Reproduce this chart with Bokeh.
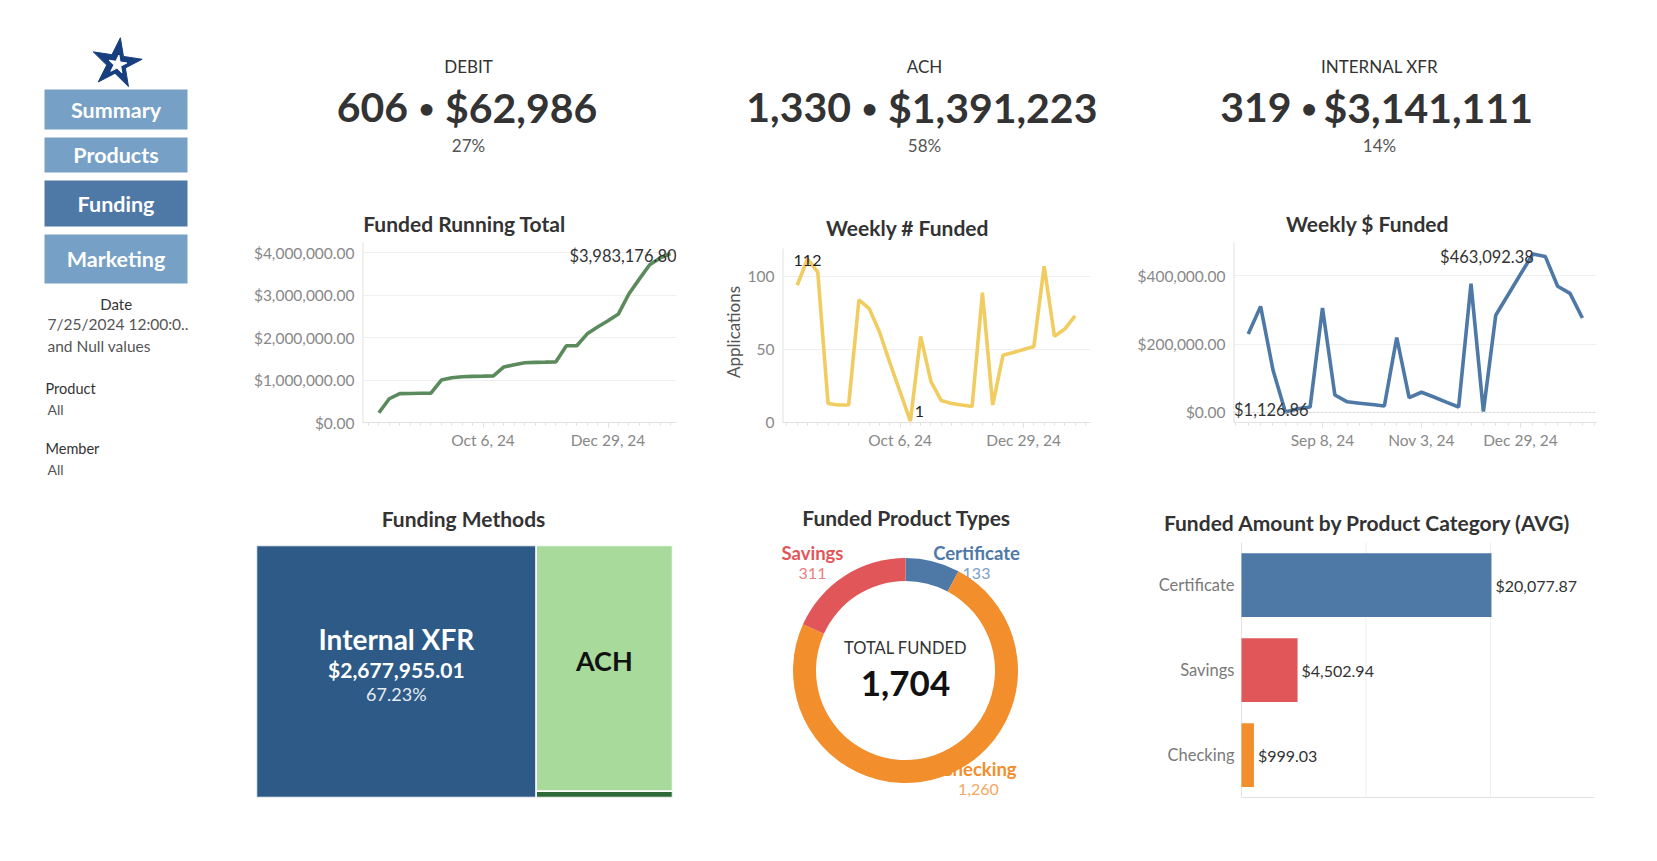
from math import pi
import pandas as pd
from bokeh.plotting import figure
from bokeh.models import (Range1d, FixedTicker, NumeralTickFormatter, CustomJSTickFormatter,
                          Span)
from bokeh.layouts import row, column
from bokeh.core.properties import value
from bokeh.embed import file_html
from bokeh.resources import INLINE

# ------------------------------------------------------------------ data
nav_labels = ["Summary", "Products", "Funding", "Marketing"]
nav_active = "Funding"
filter_names = ["Date", "Product", "Member"]
date_filter_lines = ["7/25/2024 12:00:0..", "and Null values"]
product_filter = "All"
member_filter = "All"

kpi_names = ["DEBIT", "ACH", "INTERNAL XFR"]
kpi_counts = [606, 1330, 319]
kpi_amounts = [62986, 1391223, 3141111]
kpi_shares = ["27%", "58%", "14%"]

first_week = "2024-07-28"
running_total = [230000, 560000, 680000, 685000, 688000, 690000, 1000000, 1055000,
                 1080000, 1087000, 1093000, 1100000, 1310000, 1360000, 1410000,
                 1417000, 1423000, 1430000, 1810000, 1810000, 2090000, 2250000,
                 2400000, 2560000, 3030000, 3380000, 3720000, 3880000, 3983176.80]
weekly_count = [94, 112, 103, 13, 12, 12, 84, 78, 62, 41, 21, 1, 59, 28, 15, 13,
                12, 11, 89, 12, 46, 48, 50, 52, 107, 59, 64, 73]
weekly_amount = [229000, 310000, 124000, 1126.86, 11000, 16000, 305000, 51000,
                 31000, 27000, 23000, 19000, 219000, 43000, 59000, 45000, 30000,
                 16000, 376000, 2500, 284000, 344000, 404000, 463092.38, 456000,
                 369000, 348000, 276000]
ticks_running = ["2024-10-06", "2024-12-29"]
ticks_count = ["2024-10-06", "2024-12-29"]
ticks_amount = ["2024-09-08", "2024-11-03", "2024-12-29"]
count_axis_title = "Applications"

chart_titles_top = ["Funded Running Total", "Weekly # Funded", "Weekly $ Funded"]
chart_titles_bottom = ["Funding Methods", "Funded Product Types",
                       "Funded Amount by Product Category (AVG)"]

method_names = ["Internal XFR", "ACH", "Debit"]
method_amounts = [2677955.01, 1272371.79, 32850.00]

product_types = ["Certificate", "Checking", "Savings"]
product_counts = [133, 1260, 311]

category_names = ["Certificate", "Savings", "Checking"]
category_avg = [20077.87, 4502.94, 999.03]

# ------------------------------------------------------------------ style
FONT = "Lato"
TITLE_C = "#333333"
TICK_C = "#888888"
GRID_C = "#efefef"
AXIS_C = "#e2e2e2"
GREEN = "#5b8b5c"
YELLOW = "#f1cd61"
BLUE = "#4e79a7"
ORANGE = "#f28e2b"
RED = "#e15759"
PROD_COLORS = {"Certificate": BLUE, "Checking": ORANGE, "Savings": RED}
PROD_LIGHT = {"Certificate": "#7d9ec4", "Checking": "#f5a660", "Savings": "#ea8082"}
METHOD_COLORS = ["#2d5a86", "#a8da9c", "#2d6a38"]
TICK_SIZE = "15.5px"
TITLE_SIZE = "21px"

DATE_JS = """
const m = ["Jan","Feb","Mar","Apr","May","Jun","Jul","Aug","Sep","Oct","Nov","Dec"];
const d = new Date(tick);
return m[d.getUTCMonth()] + " " + d.getUTCDate() + ", " + String(d.getUTCFullYear()).slice(2);
"""


def ms(s):
    return pd.Timestamp(s).value / 1e6


def deco_fig(x0, x1, y0, y1):
    """A figure whose plot area is the whole figure, with page-pixel ranges."""
    p = figure(width=x1 - x0, height=y1 - y0, x_range=Range1d(x0, x1),
               y_range=Range1d(y1, y0), output_backend="svg", toolbar_location=None,
               min_border_left=0, min_border_right=0, min_border_top=0,
               min_border_bottom=0)
    p.axis.visible = False
    p.grid.visible = False
    p.outline_line_color = None
    return p


def make_fig(origin, size, frame, x_range, y_range):
    ox, oy = origin
    w, h = size
    L, T, R, B = frame
    p = figure(width=w, height=h, x_range=x_range, y_range=y_range,
               output_backend="svg", toolbar_location=None,
               min_border_left=round(L - ox), min_border_right=round(ox + w - R),
               min_border_top=round(T - oy), min_border_bottom=round(oy + h - B))
    p.outline_line_color = None
    return p


def style_line_chart(p, yticks, yfmt, xticks):
    minor = []
    d = pd.Timestamp("2024-07-21")
    while d <= pd.Timestamp("2025-02-16"):
        minor.append(d.value / 1e6)
        d += pd.Timedelta(days=7)
    p.xaxis.ticker = FixedTicker(ticks=[ms(t) for t in xticks], minor_ticks=minor)
    p.xaxis.formatter = CustomJSTickFormatter(code=DATE_JS)
    p.yaxis.ticker = FixedTicker(ticks=yticks)
    p.yaxis.formatter = NumeralTickFormatter(format=yfmt)
    for ax in p.axis:
        ax.major_label_text_font = FONT
        ax.major_label_text_font_size = TICK_SIZE
        ax.major_label_text_color = TICK_C
    p.yaxis.axis_line_color = None
    p.yaxis.major_tick_line_color = None
    p.yaxis.minor_tick_line_color = None
    p.yaxis.major_tick_out = 0
    p.yaxis.major_tick_in = 0
    p.yaxis.minor_tick_out = 0
    p.yaxis.minor_tick_in = 0
    p.yaxis.major_label_standoff = 8
    p.xaxis.axis_line_color = AXIS_C
    p.xaxis.major_tick_line_color = AXIS_C
    p.xaxis.minor_tick_line_color = AXIS_C
    p.xaxis.major_tick_out = 5
    p.xaxis.major_tick_in = 0
    p.xaxis.minor_tick_out = 3
    p.xaxis.minor_tick_in = 0
    p.xaxis.major_label_standoff = 3
    p.xgrid.visible = False
    p.ygrid.grid_line_color = GRID_C
    p.ygrid.ticker = FixedTicker(ticks=yticks)


def add_title(p, x, y, text):
    p.text(x=[x], y=[y], text=[text], text_align="center", text_baseline="middle",
           text_color=TITLE_C, text_font=value(FONT), text_font_size=TITLE_SIZE,
           text_font_style="bold")


def mark_label(p, x, y, text, align, dx=0, dy=0, size="16.5px", color="#333333",
               bold=False):
    p.text(x=[x], y=[y], text=[text], text_align=align, text_baseline="middle",
           x_offset=dx, y_offset=dy, text_font=value(FONT), text_font_size=size,
           text_color=color, text_font_style="bold" if bold else "normal")


# ------------------------------------------------------------------ sidebar
side = deco_fig(0, 230, 0, 810)
nav_tops = [89, 137, 180, 234]
nav_bottoms = [129, 172, 226, 283]
nav_fill = ["#4e78a6" if n == nav_active else "#76a0c6" for n in nav_labels]
side.quad(left=44, right=187, top=nav_tops, bottom=nav_bottoms, fill_color=nav_fill,
          line_color=None)
side.text(x=115.5, y=[(t + b) / 2 for t, b in zip(nav_tops, nav_bottoms)], text=nav_labels,
          text_align="center", text_baseline="middle", text_color="white",
          text_font=value(FONT), text_font_size="21.5px", text_font_style="bold")
side.scatter(x=[116], y=[63], marker="star", size=52, color="#173f7f", angle=-0.15)
side.scatter(x=[117], y=[64], marker="star", size=19, color="white", angle=-0.15)
side.text(x=[115.7], y=[303], text=[filter_names[0]], text_align="center",
          text_baseline="middle", text_color="#333333", text_font=value(FONT),
          text_font_size="15px")
side.text(x=47, y=[323, 345], text=date_filter_lines, text_align="left",
          text_baseline="middle", text_color="#555555", text_font=value(FONT),
          text_font_size="15.5px")
side.text(x=45, y=[388, 448], text=filter_names[1:], text_align="left",
          text_baseline="middle", text_color="#333333", text_font=value(FONT),
          text_font_size="14.5px")
side.text(x=47, y=[409, 469], text=[product_filter, member_filter], text_align="left",
          text_baseline="middle", text_color="#555555", text_font=value(FONT),
          text_font_size="14px")

# ------------------------------------------------------------------ KPIs
top = deco_fig(230, 1620, 0, 185)
kpi_center = [468, 924, 1379]
kpi_bullet = [426, 869, 1308.5]
kpi_gap_left = [18.5, 18.5, 17.5]
kpi_gap_right = [18.5, 18.5, 14.5]
top.text(x=kpi_center, y=65.5, text=kpi_names, text_align="center", text_baseline="middle",
         text_color="#333333", text_font=value(FONT), text_font_size="17px")
top.text(x=[b - g for b, g in zip(kpi_bullet, kpi_gap_left)], y=107,
         text=[f"{c:,}" for c in kpi_counts], text_align="right", text_baseline="middle",
         text_color="#333333", text_font=value(FONT), text_font_size="41px",
         text_font_style="bold")
top.text(x=kpi_bullet, y=107, text=["\u2022"] * 3, text_align="center",
         text_baseline="middle", text_color="#333333", text_font=value(FONT),
         text_font_size="27px", text_font_style="bold")
top.text(x=[b + g for b, g in zip(kpi_bullet, kpi_gap_right)], y=107,
         text=[f"${a:,}" for a in kpi_amounts], text_align="left", text_baseline="middle",
         text_color="#333333", text_font=value(FONT), text_font_size="41px",
         text_font_style="bold")
top.text(x=kpi_center, y=145, text=kpi_shares, text_align="center", text_baseline="middle",
         text_color="#555555", text_font=value(FONT), text_font_size="17px")

ROW1_TOP, ROW1_BOTTOM = 185, 475

# ------------------------------------------------------------------ chart 1: running total
run_dates = pd.date_range(first_week, periods=len(running_total), freq="7D").to_pydatetime()
x1s = pd.Timestamp("2024-07-17")
c1x = lambda px: (x1s + pd.Timedelta(days=(px - 362) / 1.488)).to_pydatetime()
c1y = lambda py: (427 - py) / 43.4 * 1e6
c1 = make_fig((230, ROW1_TOP), (470, ROW1_BOTTOM - ROW1_TOP), (362, 205, 676, 427),
              Range1d(c1x(362), c1x(676)), Range1d(0, c1y(205)))
style_line_chart(c1, [0, 1e6, 2e6, 3e6, 4e6], "$0,0.00", ticks_running)
c1.segment(x0=[c1x(362)], y0=[0], x1=[c1x(362)], y1=[c1y(243)], line_color=AXIS_C,
           line_width=2)
c1.line(run_dates, running_total, line_width=3.6, color=GREEN)
imax = max(range(len(running_total)), key=lambda i: running_total[i])
mark_label(c1, run_dates[imax], running_total[imax], f"${running_total[imax]:,.2f}",
           "right", dx=6, dy=2)
add_title(c1, c1x(464), c1y(223), chart_titles_top[0])

# ------------------------------------------------------------------ chart 2: weekly count
wk_dates = pd.date_range(first_week, periods=len(weekly_count), freq="7D").to_pydatetime()
x2s = pd.Timestamp("2024-07-18")
c2x = lambda px: (x2s + pd.Timedelta(days=(px - 782) / 1.47)).to_pydatetime()
c2y = lambda py: (422 - py) / 1.46
c2 = make_fig((744, ROW1_TOP), (386, ROW1_BOTTOM - ROW1_TOP), (782, 205, 1090, 422),
              Range1d(c2x(782), c2x(1090)), Range1d(0, c2y(205)))
style_line_chart(c2, [0, 50, 100], "0", ticks_count)
c2.segment(x0=[c2x(782)], y0=[0], x1=[c2x(782)], y1=[c2y(248)], line_color=AXIS_C,
           line_width=2)
c2.line(wk_dates, weekly_count, line_width=3.6, color=YELLOW)
cmax = max(range(len(weekly_count)), key=lambda i: weekly_count[i])
cmin = min(range(len(weekly_count)), key=lambda i: weekly_count[i])
mark_label(c2, wk_dates[cmax], weekly_count[cmax], str(weekly_count[cmax]), "center",
           dy=2, size="16px", color="#222222")
mark_label(c2, wk_dates[cmin], weekly_count[cmin], str(weekly_count[cmin]), "center",
           dx=9, dy=-10, size="16px", color="#222222")
add_title(c2, c2x(907), c2y(227), chart_titles_top[1])

app = deco_fig(700, 744, ROW1_TOP, ROW1_BOTTOM)
app.text(x=[732.7], y=[354], text=[count_axis_title], angle=pi / 2, text_align="center",
         text_baseline="middle", text_color="#555555", text_font=value(FONT),
         text_font_size="17px")

# ------------------------------------------------------------------ chart 3: weekly amount
amt_dates = pd.date_range(first_week, periods=len(weekly_amount), freq="7D").to_pydatetime()
x3s = pd.Timestamp("2024-07-19 16:00")
c3x = lambda px: (x3s + pd.Timedelta(days=(px - 1233) / 1.768)).to_pydatetime()
c3y = lambda py: (416.7 - py) * 200000 / 70
c3 = make_fig((1130, ROW1_TOP), (490, ROW1_BOTTOM - ROW1_TOP), (1233, 205, 1596, 427),
              Range1d(c3x(1233), c3x(1596)), Range1d(c3y(427), c3y(205)))
style_line_chart(c3, [0, 200000, 400000], "$0,0.00", ticks_amount)
c3.segment(x0=[c3x(1233)], y0=[c3y(427)], x1=[c3x(1233)], y1=[c3y(243)],
           line_color=AXIS_C, line_width=2)
c3.add_layout(Span(location=0, dimension="width", line_color="#bdbdbd", line_width=1,
                   line_dash="1 3"))
c3.line(amt_dates, weekly_amount, line_width=3.6, color=BLUE)
amax = max(range(len(weekly_amount)), key=lambda i: weekly_amount[i])
amin = min(range(len(weekly_amount)), key=lambda i: weekly_amount[i])
mark_label(c3, amt_dates[amax], weekly_amount[amax], f"${weekly_amount[amax]:,.2f}",
           "right", dx=1, dy=3)
mark_label(c3, amt_dates[amin], weekly_amount[amin], f"${weekly_amount[amin]:,.2f}",
           "center", dx=-14, dy=-2)
add_title(c3, c3x(1367), c3y(223), chart_titles_top[2])

# ------------------------------------------------------------------ bottom-left titles
mid = deco_fig(230, 1130, ROW1_BOTTOM, 536)
mid.text(x=[463, 906], y=[518, 517], text=chart_titles_bottom[:2], text_align="center",
         text_baseline="middle", text_color=TITLE_C, text_font=value(FONT),
         text_font_size=TITLE_SIZE, text_font_style="bold")

# ------------------------------------------------------------------ treemap
tm = make_fig((230, 536), (470, 274), (256, 543, 672, 797), Range1d(0, 1), Range1d(0, 1))
tm.axis.visible = False
tm.grid.visible = False
total_m = sum(method_amounts)
f0 = method_amounts[0] / total_m
split = method_amounts[2] / (method_amounts[1] + method_amounts[2])
tm.quad(left=[0, f0, f0], right=[f0, 1, 1], bottom=[0, split, 0], top=[1, 1, split],
        fill_color=METHOD_COLORS, line_color="white", line_width=1.5)
mark_label(tm, f0 / 2, 0.5, method_names[0], "center", dy=-33, size="28px", color="white",
           bold=True)
mark_label(tm, f0 / 2, 0.5, f"${method_amounts[0]:,.2f}", "center", dy=-2, size="21px",
           color="white", bold=True)
mark_label(tm, f0 / 2, 0.5, f"{method_amounts[0] / total_m:.2%}", "center", dy=22,
           size="18px", color="#e6ebf2")
mark_label(tm, (f0 + 1) / 2, (split + 1) / 2, method_names[1], "center", dy=-8,
           size="27px", color="#111111", bold=True)

# ------------------------------------------------------------------ donut
dn = make_fig((700, 536), (430, 274), (780, 545, 1030, 805), Range1d(-1.25, 1.25),
              Range1d(-1.31, 1.29))
dn.axis.visible = False
dn.grid.visible = False
label_offsets = {"Savings": (-93, -118), "Certificate": (71, -118), "Checking": (73, 98)}
for name, cnt in zip(product_types, product_counts):
    ox, oy = label_offsets[name]
    dn.text(x=[0], y=[0], text=[name], x_offset=ox, y_offset=oy, text_align="center",
            text_baseline="middle", text_color=PROD_COLORS[name], text_font=value(FONT),
            text_font_size="18.5px", text_font_style="bold")
    dn.text(x=[0], y=[0], text=[f"{cnt:,}"], x_offset=ox, y_offset=oy + 21,
            text_align="center", text_baseline="middle", text_color=PROD_LIGHT[name],
            text_font=value(FONT), text_font_size="16px")
total_p = sum(product_counts)
starts, ends = [], []
a = pi / 2
for cnt in product_counts:
    starts.append(a)
    a = a - 2 * pi * cnt / total_p
    ends.append(a)
dn.annular_wedge(x=0, y=0, inner_radius=0.895, outer_radius=1.125, start_angle=starts,
                 end_angle=ends, direction="clock",
                 fill_color=[PROD_COLORS[n] for n in product_types], line_color=None)
dn.text(x=[0], y=[0], text=["TOTAL FUNDED"], y_offset=-23, text_align="center",
        text_baseline="middle", text_color="#333333", text_font=value(FONT),
        text_font_size="16.5px")
dn.text(x=[0], y=[0], text=[f"{total_p:,}"], y_offset=13, text_align="center",
        text_baseline="middle", text_color="#111111", text_font=value(FONT),
        text_font_size="35px", text_font_style="bold")

# ------------------------------------------------------------------ bar chart
bar_pos = list(range(len(category_names), 0, -1))
bx = lambda px: (px - 1241) / 12.45 * 1000
by = lambda py: 0.5 + (797 - py) / 85
bc = make_fig((1130, ROW1_BOTTOM), (490, 810 - ROW1_BOTTOM), (1130, ROW1_BOTTOM, 1620, 810),
              Range1d(bx(1130), bx(1620)), Range1d(by(810), by(ROW1_BOTTOM)))
bc.axis.visible = False
bc.grid.visible = False
bc.segment(x0=[10000, 20000], x1=[10000, 20000], y0=by(797), y1=by(542), line_color=GRID_C,
           line_width=1)
bc.segment(x0=[0, 0], x1=[0, bx(1594)], y0=[by(797), by(797)], y1=[by(542), by(797)],
           line_color=AXIS_C, line_width=1)
bc.hbar(y=bar_pos, right=category_avg, height=0.75,
        fill_color=[PROD_COLORS[n] for n in category_names], line_color=None)
bc.text(x=category_avg, y=bar_pos, text=[f"${v:,.2f}" for v in category_avg],
        x_offset=4, text_align="left", text_baseline="middle", text_color="#333333",
        text_font=value(FONT), text_font_size="16px")
bc.text(x=0, y=bar_pos, text=category_names, x_offset=-7, text_align="right",
        text_baseline="middle", text_color="#7a7a7a", text_font=value(FONT),
        text_font_size="16.5px")
add_title(bc, bx(1367), by(522), chart_titles_bottom[2])

# ------------------------------------------------------------------ layout
layout = row(side, column(top,
                          row(c1, app, c2, c3),
                          row(column(mid, row(tm, dn)), bc)))
open("out.html", "w").write(file_html(layout, INLINE))
